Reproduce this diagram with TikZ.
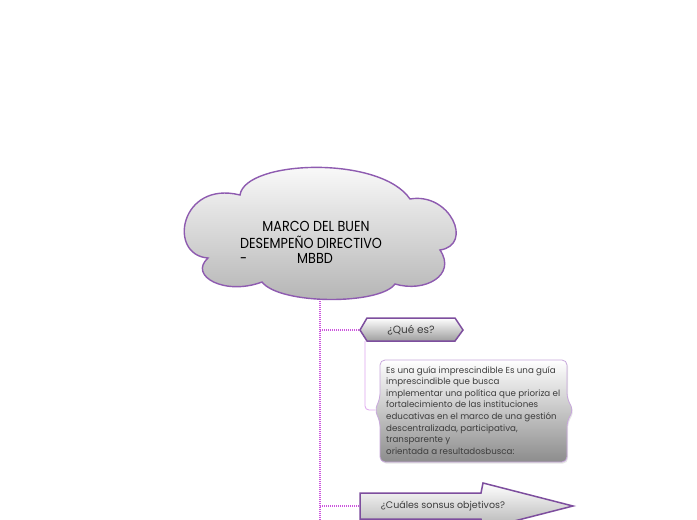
\documentclass[tikz,border=0pt]{standalone}
\usepackage{fontspec}
\setmainfont{Poppins}[FakeStretch=0.88]
\newfontfamily\smallfont{Poppins}[FakeStretch=1.0]
\usetikzlibrary{shadows}
\definecolor{cloudline}{HTML}{8E5BB0}
\definecolor{hexline}{HTML}{7D4E9E}
\definecolor{dotline}{HTML}{CC55DD}
\definecolor{boxline}{HTML}{C8A8DC}
\definecolor{linkline}{HTML}{DDA6EE}
\definecolor{txt}{HTML}{3C3C3C}
\tikzset{
  cloudsty/.style={draw=cloudline, line width=1.4pt, top color=white, bottom color=black!30},
  hexsty/.style={draw=hexline, line width=1.5pt, top color=white, bottom color=black!38},
  boxsty/.style={draw=boxline, line width=0.8pt, top color=white, bottom color=black!45,
    rounded corners=5pt, drop shadow={opacity=0.2, shadow xshift=1pt, shadow yshift=-1.5pt}},
  arrowsty/.style={draw=hexline, line width=1.5pt, top color=white, bottom color=black!30},
  dotsty/.style={draw=dotline, line width=1.1pt, dash pattern=on 1.1pt off 0.9pt},
  linksty/.style={draw=linkline, line width=0.8pt, rounded corners=4pt},
  cloudtxt/.style={inner sep=0, font=\fontsize{14.5}{16}\selectfont, text=black},
  smalltxt/.style={inner sep=0, text=txt, font=\smallfont\fontsize{8.7}{11.6}\selectfont},
  labeltxt/.style={inner sep=0, text=txt, font=\smallfont\fontsize{9.5}{11}\selectfont},
}
\begin{document}
\begin{tikzpicture}[x=1pt,y=-1pt]
\useasboundingbox (0,0) rectangle (697,520);
\clip (0,0) rectangle (697,520);
\fill[white] (0,0) rectangle (697,520);

% named points
\coordinate (cloudB) at (320,297);
\coordinate (trunkE) at (320,520);
\coordinate (t1) at (320,330);
\coordinate (t2) at (320,506);
\coordinate (queW) at (360,330);
\coordinate (queB) at (365,341);
\coordinate (boxL) at (375,410);
\coordinate (arrW) at (360,506);

% trunk and branches
\draw[dotsty] (cloudB) -- (trunkE);
\draw[dotsty] (t1) -- (queW);
\draw[dotsty] (t2) -- (arrW);

% cloud
\path[cloudsty] (240,195)
  .. controls (245,160) and (380,155) .. (410,199)
  .. controls (450,192) and (474,245) .. (440,250)
  .. controls (457,275) and (425,293) .. (395,284)
  .. controls (380,305) and (280,305) .. (262,282)
  .. controls (225,296) and (188,276) .. (208,258)
  .. controls (167,255) and (180,180) .. cycle;
\node[cloudtxt] (c1) at (316,226) {MARCO DEL BUEN};
\node[cloudtxt] (c2) at (311,242) {DESEMPEÑO DIRECTIVO};
\node[cloudtxt, anchor=base west] (c3) at (240,263) {\makebox[57pt][l]{-}MBBD};

% hexagon
\path[hexsty] (queW) -- (367,318) -- (455,318) -- (463,330) -- (455,341) -- (367,341) -- cycle;
\node[labeltxt, font=\smallfont\fontsize{10.5}{12}\selectfont] (que) at (411,330) {¿Qué es?};

% link hexagon -> box
\draw[linksty] (queB) |- (boxL);

% box
\path[boxsty] (380,360) -- (567,360) -- (567,398) -- (573,410) -- (567,422) -- (567,462)
  -- (380,462) -- (380,422) -- (boxL) -- (380,398) -- cycle;
\node[smalltxt, anchor=north west, align=left] (desc) at (386,366) {Es una guía imprescindible Es una guía\\
imprescindible que busca\\
implementar una política que prioriza el\\
fortalecimiento de las instituciones\\
educativas en el marco de una gestión\\
descentralizada, participativa,\\
transparente y\\
orientada a resultadosbusca:};

% arrow
\path[arrowsty] (arrW) -- (360,493) -- (481,493) -- (483,483) -- (573,506) -- (483,529) -- (481,519) -- (360,519) -- cycle;
\node[labeltxt] (obj) at (443,506) {¿Cuáles sonsus objetivos?};
\end{tikzpicture}
\end{document}
